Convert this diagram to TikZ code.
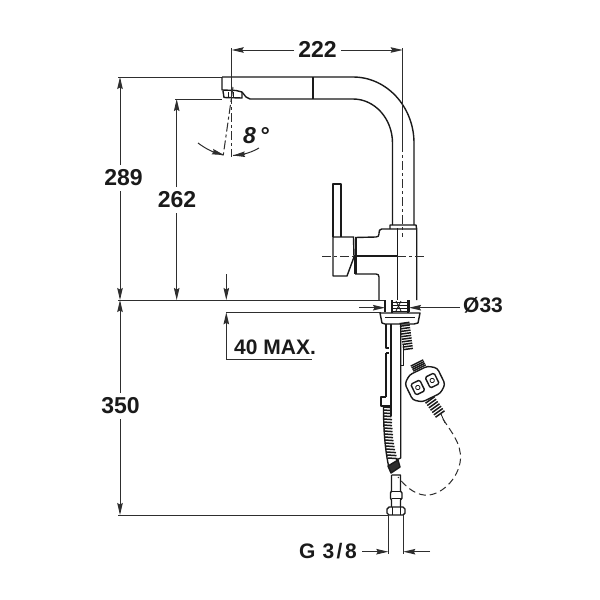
\documentclass[tikz,border=0pt]{standalone}
\usepackage{fontspec}
\setmainfont{Liberation Sans}
\usetikzlibrary{arrows.meta}
\definecolor{ink}{HTML}{1A1A1A}
\definecolor{dim}{HTML}{2E2E2E}
\tikzset{
 body/.style={draw=ink,line width=1.4pt,line join=round},
 fine/.style={draw=ink,line width=0.8pt},
 dimline/.style={draw=dim,line width=1pt},
 dimarrow/.style={dimline,-{Stealth[length=12pt,width=5.5pt,inset=1.5pt]}},
 centre/.style={draw=dim,line width=1pt,dash pattern=on 9pt off 3pt on 3pt off 3pt},
 hosedash/.style={draw=dim,line width=1pt,dash pattern=on 7pt off 4pt},
 label/.style={font=\fontsize{23}{26}\selectfont\bfseries,text=ink,inner sep=0pt},
 smalllabel/.style={font=\fontsize{21}{24}\selectfont\bfseries,text=ink,inner sep=0pt}
}
\newcommand{\threadrow}[6]{% from (x1,y1) to (x2,y2), half width #5, count #6
 \foreach \k in {0,...,#6}{
  \pgfmathsetmacro{\tt}{\k/#6}
  \pgfmathsetmacro{\px}{#1+(#3-#1)*\tt}
  \pgfmathsetmacro{\py}{#2+(#4-#2)*\tt}
  \pgfmathsetmacro{\ll}{veclen(#3-#1,#4-#2)}
  \pgfmathsetmacro{\nx}{-(#4-#2)/\ll*#5}
  \pgfmathsetmacro{\ny}{(#3-#1)/\ll*#5}
  \draw[draw=ink,line width=1.5pt] (\px+\nx,\py+\ny) -- (\px-\nx,\py-\ny);
 }}
\begin{document}
\begin{tikzpicture}[x=1pt,y=-1pt]
\useasboundingbox (0,0) rectangle (600,600);
\fill[white] (0,0) rectangle (600,600);

% named anchors for the dimensions
\coordinate (topY) at (120,77);
\coordinate (floorL) at (120,300);
\coordinate (baseY) at (120,515);
\coordinate (spoutY) at (176.7,99);
\coordinate (floorM) at (176.7,300);
\coordinate (maxTop) at (226.3,274);
\coordinate (maxA) at (226.3,300);
\coordinate (maxB) at (226.3,312.3);
\coordinate (maxC) at (226.3,359);
\coordinate (maxD) at (312,359);

% spout
\draw[dimline] (118,77) -- (222,77);
\draw[dimline] (175,99) -- (222,99);
\draw[body] (222,77) -- (353,77) .. controls (387,77) and (414,107) .. (414,143) -- (414,225);
\draw[body] (250,99) -- (353,99) .. controls (375,99) and (392.5,119) .. (392.5,143) -- (392.5,225);
\draw[body] (313,77) -- (313,99);
\draw[body] (222,77) -- (222,90) -- (236,90.5) -- (242,92) -- (246,97) -- (250,99);
\draw[body] (223,91) -- (224,97.5) -- (242,98) -- (242,92);
\draw[fine] (228,92) -- (228,97) (233,92) -- (233,97);

% body and handle
\draw[body] (390,229) -- (390,225) -- (416,225) -- (416.7,229) -- (416.7,300);
\draw[body] (416.7,229) -- (381.7,229) .. controls (379.5,229) and (379,231) .. (379,233) -- (379,234)
  .. controls (379,236) and (378,237) .. (376,237) -- (355,237.5);
\draw[body] (355,274) -- (376,274) .. controls (378,274) and (379,275) .. (379,277) -- (379,300);
\draw[body] (333,237) -- (333,184) -- (341,184) -- (341,237);
\draw[body] (333,237) -- (354,237) (333,237) -- (333,276) -- (347,276) -- (354,257) -- (353.5,237);
\draw[body] (356,238) -- (356,274);
\draw[fine] (354,257) -- (354,274);
\draw[fine] (397.3,228) -- (397.3,300);
\draw[body] (354,256) -- (397.3,256);
\draw[centre] (322,256) -- (354,256);
\draw[centre] (397.3,256) -- (424,256);
\draw[centre] (402.7,143) -- (402.7,237);
\draw[dimline] (402.7,48) -- (402.7,143);

% floor lines and base
\draw[dimline] (floorL) ++(-2,0) -- (379,300);
\draw[dimline] (379,300) -- (385,300);
\draw[dimline] (maxB) -- (381,312.3);
\draw[body] (385,300) -- (385,312);
\draw[body] (409,300) -- (409,312);
\draw[body] (392,300) -- (392,313) (408,300) -- (408,313);
\foreach \yy in {302,305,308,311}{\draw[draw=ink,line width=1pt] (392,\yy) -- (408,\yy);}
\draw[fine] (396,301) -- (401,311) (401,301) -- (396,311);
% flange
\draw[body] (380,313) -- (420,313) -- (418,323) -- (414,324) -- (385,324) -- (382,323) -- cycle;
\draw[fine] (385,317) -- (415,317);
% column
\draw[body] (386,324) -- (386,348) -- (389,348);
\draw[body] (386,353) -- (389,353) (386,353) -- (386,397);
\draw[body] (391,324) -- (391,416);
\draw[body] (400.7,324) -- (400.7,458) -- (396,460);
\draw[fine] (403,345) -- (403,365) -- (400.7,365);
\draw[body] (386,397) -- (381,397) -- (381,406) -- (390,406);
% upper hose thread
\threadrow{404.5}{323}{408}{349}{5}{10}
% lower hose
\draw[body] (383.5,406) .. controls (383.5,430) and (385,450) .. (389,468);
\foreach \yy/\xa/\xb in {407/383.5/391,410/383.5/391.5,413/383.5/391.5,416/383.5/391.5,419/383.5/392,422/383.5/392,425/383.5/392,428/384/392.5,431/384/392.5,434/384.5/393,437/384.5/393,440/385/393.5,443/385/394,446/385.5/394.5,449/386/395,452/386.5/396,455/387/396.5,458/388/397.5}{
 \draw[draw=ink,line width=1.5pt] (\xa,\yy) -- (\xb,\yy+0.6);
}
\draw[body,fill=dim] (388,466) -- (398,460) -- (400,467) -- (391,473) -- cycle;

% quick connector
\begin{scope}[shift={(425,384)},rotate=26]
 \path[body,fill=white,rounded corners=3pt] (-18,-9) -- (-10,-15) -- (10,-15) -- (18,-9) -- (18,9) -- (10,15) -- (-10,15) -- (-18,9) -- cycle;
 \draw[body,rounded corners=1.5pt] (-13,-6) rectangle (-3,6);
 \draw[body,rounded corners=1.5pt] (3,-6) rectangle (13,6);
 \draw[fine] (-8,0) circle (2.2) (8,0) circle (2.2);
\end{scope}
\threadrow{417}{363}{419.5}{368}{7}{3}
\threadrow{430}{400}{440}{414}{5.5}{6}
\draw[fine] (441,414) -- (445,423);

% dashed hose
\draw[hosedash] (443,419) .. controls (452,433) and (461,443) .. (460.5,459)
  .. controls (459,479) and (440,497) .. (424,495) .. controls (414,494) and (405,486) .. (398,477);

% bottom fitting
\draw[body] (391.5,475) -- (400.5,475) -- (400.5,491) -- (402,493) -- (402,498) -- (400.5,500) -- (400.5,507);
\draw[body] (391.5,475) -- (391.5,491) -- (390.5,493) -- (390.5,498) -- (391.5,500) -- (391.5,507);
\draw[fine] (391.5,491) -- (400.5,491) (391.5,498) -- (400.5,498);
\draw[body] (389,507) -- (403,507) -- (405,509) -- (405,513) -- (403,515) -- (389,515) -- (387,513) -- (387,509) -- cycle;
\draw[fine] (392.5,507) -- (392.5,515) (400.5,507) -- (400.5,515);
\draw[dimline] (baseY) ++(-2,0) -- (388.3,515);
\draw[dimline] (388.3,515) -- (388.3,554);
\draw[dimline] (403.3,515) -- (403.3,554);

% dimension 222
\coordinate (d222L) at (231.7,50);
\coordinate (d222R) at (402.7,50);
\node[label] (t222) at (317.5,49.5) {222};
\draw[dimarrow] (294,50) -- (d222L);
\draw[dimarrow] (341,50) -- (d222R);
\draw[dimline] (231.7,48) -- (231.7,95);
\draw[centre] (231.7,95) -- (231.7,157);
\draw[centre] (233,87) -- (223,157);

% angle
\node[smalllabel,font=\fontsize{23}{26}\selectfont\bfseries\itshape] (t8) at (256,136) {8\,°};
\draw[dimline] (198,143) .. controls (206,149) and (214,153) .. (223,155);
\draw[dimarrow] (212,151.5) -- (224,155);
\draw[dimline] (259,148) .. controls (252,152) and (244,155) .. (233,155.5);
\draw[dimarrow] (245,154.2) -- (233,155.5);

% dimension 289
\node[label] (t289) at (123.5,178) {289};
\draw[dimarrow] (120,165) -- (topY);
\draw[dimarrow] (120,191) -- (floorL);
% dimension 262
\node[label] (t262) at (177,200) {262};
\draw[dimarrow] (176.7,187) -- (spoutY);
\draw[dimarrow] (176.7,213) -- (floorM);
% dimension 350
\node[label] (t350) at (120.5,406) {350};
\draw[dimarrow] (120,393) -- (floorL);
\draw[dimarrow] (120,419) -- (baseY);
% 40 MAX.
\draw[dimarrow] (maxTop) -- (maxA);
\draw[dimarrow] (maxC) -- (maxB);
\draw[dimline] (maxC) -- (maxD);
\node[smalllabel,anchor=base west] (t40) at (234,354) {40 MAX.};
% diameter 33
\coordinate (d33L) at (385,307.7);
\coordinate (d33R) at (409,307.7);
\draw[dimarrow] (359,307.7) -- (d33L);
\draw[dimarrow] (460,307.7) -- (d33R);
\node[smalllabel,anchor=west] (t33) at (463,305) {Ø33};
% G 3/8
\coordinate (gL) at (388.3,551.7);
\coordinate (gR) at (403.3,551.7);
\draw[dimarrow] (362,551.7) -- (gL);
\draw[dimarrow] (430,551.7) -- (gR);
\node[smalllabel,anchor=west] (tg) at (299,551) {G\hspace{7pt}3\kern2.5pt/\kern2.5pt8};
\end{tikzpicture}
\end{document}
